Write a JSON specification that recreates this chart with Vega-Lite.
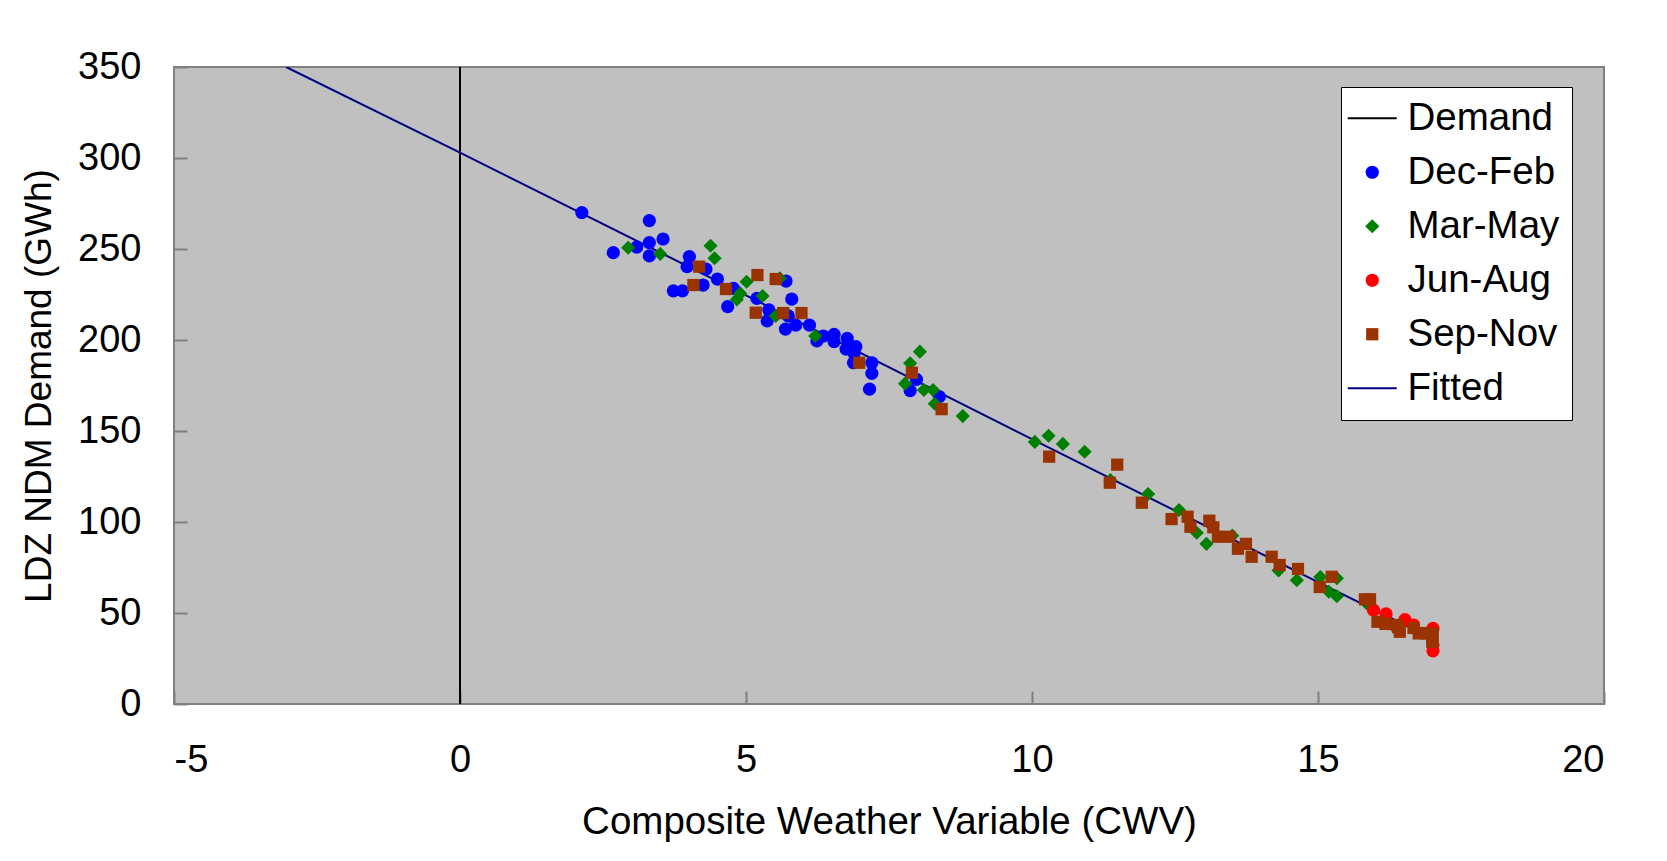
{
  "$schema": "https://vega.github.io/schema/vega-lite/v6.json",
  "width": 1430,
  "height": 637,
  "autosize": {"type": "none"},
  "padding": {"left": 174, "top": 67, "right": 63, "bottom": 157},
  "background": "white",
  "config": {
    "font": "Liberation Sans",
    "view": {"fill": "#C0C0C0", "stroke": "#808080", "strokeWidth": 2}
  },
  "datasets": {
    "lines": [
      {"series": "Demand", "x": 0, "y": 0},
      {"series": "Demand", "x": 0, "y": 350},
      {"series": "Fitted", "x": -3.04, "y": 350},
      {"series": "Fitted", "x": 0, "y": 303},
      {"series": "Fitted", "x": 5, "y": 224.5},
      {"series": "Fitted", "x": 10, "y": 145.5},
      {"series": "Fitted", "x": 15, "y": 67},
      {"series": "Fitted", "x": 17, "y": 36}
    ],
    "points": [
      {"series": "Dec-Feb", "x": 2.13, "y": 270},
      {"series": "Dec-Feb", "x": 2.68, "y": 248},
      {"series": "Dec-Feb", "x": 3.09, "y": 251},
      {"series": "Dec-Feb", "x": 3.31, "y": 265.6},
      {"series": "Dec-Feb", "x": 3.31, "y": 253.5},
      {"series": "Dec-Feb", "x": 3.31, "y": 246.2},
      {"series": "Dec-Feb", "x": 3.55, "y": 255.5},
      {"series": "Dec-Feb", "x": 4.01, "y": 245.8},
      {"series": "Dec-Feb", "x": 3.97, "y": 240.3},
      {"series": "Dec-Feb", "x": 4.3, "y": 239},
      {"series": "Dec-Feb", "x": 3.73, "y": 227},
      {"series": "Dec-Feb", "x": 3.89, "y": 227},
      {"series": "Dec-Feb", "x": 4.25, "y": 230.2},
      {"series": "Dec-Feb", "x": 4.5, "y": 233.5},
      {"series": "Dec-Feb", "x": 4.78, "y": 228.4},
      {"series": "Dec-Feb", "x": 4.68, "y": 218.3},
      {"series": "Dec-Feb", "x": 5.19, "y": 222.9},
      {"series": "Dec-Feb", "x": 5.4, "y": 216.5},
      {"series": "Dec-Feb", "x": 5.37, "y": 210.5},
      {"series": "Dec-Feb", "x": 5.7, "y": 232.4},
      {"series": "Dec-Feb", "x": 5.8, "y": 222.5},
      {"series": "Dec-Feb", "x": 5.74, "y": 213.2},
      {"series": "Dec-Feb", "x": 5.69, "y": 206},
      {"series": "Dec-Feb", "x": 5.87, "y": 208.2},
      {"series": "Dec-Feb", "x": 6.11, "y": 208.2},
      {"series": "Dec-Feb", "x": 6.24, "y": 199.5},
      {"series": "Dec-Feb", "x": 6.35, "y": 202.2},
      {"series": "Dec-Feb", "x": 6.54, "y": 203.1},
      {"series": "Dec-Feb", "x": 6.54, "y": 199.1},
      {"series": "Dec-Feb", "x": 6.77, "y": 200.9},
      {"series": "Dec-Feb", "x": 6.75, "y": 195},
      {"series": "Dec-Feb", "x": 6.92, "y": 196.3},
      {"series": "Dec-Feb", "x": 6.89, "y": 192.7},
      {"series": "Dec-Feb", "x": 6.88, "y": 187.5},
      {"series": "Dec-Feb", "x": 7.2, "y": 187.5},
      {"series": "Dec-Feb", "x": 7.2, "y": 181.7},
      {"series": "Dec-Feb", "x": 7.16, "y": 173},
      {"series": "Dec-Feb", "x": 7.98, "y": 178.4},
      {"series": "Dec-Feb", "x": 7.87, "y": 172.2},
      {"series": "Dec-Feb", "x": 8.38, "y": 168.9},
      {"series": "Mar-May", "x": 2.94, "y": 250.7},
      {"series": "Mar-May", "x": 3.5, "y": 247.3},
      {"series": "Mar-May", "x": 4.38, "y": 251.8},
      {"series": "Mar-May", "x": 4.45, "y": 244.9},
      {"series": "Mar-May", "x": 5.01, "y": 232},
      {"series": "Mar-May", "x": 4.9, "y": 225.6},
      {"series": "Mar-May", "x": 4.84, "y": 222.3},
      {"series": "Mar-May", "x": 5.29, "y": 224.2},
      {"series": "Mar-May", "x": 5.59, "y": 233.9},
      {"series": "Mar-May", "x": 5.52, "y": 213.2},
      {"series": "Mar-May", "x": 6.21, "y": 202.2},
      {"series": "Mar-May", "x": 8.04, "y": 193.6},
      {"series": "Mar-May", "x": 7.87, "y": 187.2},
      {"series": "Mar-May", "x": 7.78, "y": 176},
      {"series": "Mar-May", "x": 8.11, "y": 172.5},
      {"series": "Mar-May", "x": 8.27, "y": 172.5},
      {"series": "Mar-May", "x": 8.3, "y": 165},
      {"series": "Mar-May", "x": 8.79, "y": 158.2},
      {"series": "Mar-May", "x": 10.05, "y": 144},
      {"series": "Mar-May", "x": 10.29, "y": 147.4},
      {"series": "Mar-May", "x": 10.54, "y": 142.9},
      {"series": "Mar-May", "x": 10.92, "y": 138.6},
      {"series": "Mar-May", "x": 11.37, "y": 123},
      {"series": "Mar-May", "x": 12.03, "y": 115.4},
      {"series": "Mar-May", "x": 12.57, "y": 106.6},
      {"series": "Mar-May", "x": 12.88, "y": 94.1},
      {"series": "Mar-May", "x": 13.05, "y": 88},
      {"series": "Mar-May", "x": 13.5, "y": 92.5},
      {"series": "Mar-May", "x": 14.31, "y": 73.4},
      {"series": "Mar-May", "x": 14.63, "y": 68},
      {"series": "Mar-May", "x": 15.04, "y": 69.8},
      {"series": "Mar-May", "x": 15.33, "y": 69.1},
      {"series": "Mar-May", "x": 15.19, "y": 61.7},
      {"series": "Mar-May", "x": 15.33, "y": 59.2},
      {"series": "Mar-May", "x": 15.88, "y": 54.4},
      {"series": "Jun-Aug", "x": 15.97, "y": 51.6},
      {"series": "Jun-Aug", "x": 16.19, "y": 49.5},
      {"series": "Jun-Aug", "x": 16.52, "y": 46.3},
      {"series": "Jun-Aug", "x": 16.67, "y": 43.4},
      {"series": "Jun-Aug", "x": 17.01, "y": 41.5},
      {"series": "Jun-Aug", "x": 17.01, "y": 32.4},
      {"series": "Jun-Aug", "x": 17.01, "y": 29.2},
      {"series": "Sep-Nov", "x": 4.18, "y": 240.3},
      {"series": "Sep-Nov", "x": 4.08, "y": 230.2},
      {"series": "Sep-Nov", "x": 4.65, "y": 228},
      {"series": "Sep-Nov", "x": 5.2, "y": 235.7},
      {"series": "Sep-Nov", "x": 5.52, "y": 233.5},
      {"series": "Sep-Nov", "x": 5.17, "y": 215},
      {"series": "Sep-Nov", "x": 5.65, "y": 214.8},
      {"series": "Sep-Nov", "x": 5.97, "y": 214.8},
      {"series": "Sep-Nov", "x": 6.98, "y": 187.5},
      {"series": "Sep-Nov", "x": 7.9, "y": 182},
      {"series": "Sep-Nov", "x": 8.42, "y": 162},
      {"series": "Sep-Nov", "x": 10.3, "y": 135.9},
      {"series": "Sep-Nov", "x": 11.49, "y": 131.5},
      {"series": "Sep-Nov", "x": 11.36, "y": 121.6},
      {"series": "Sep-Nov", "x": 11.92, "y": 110.6},
      {"series": "Sep-Nov", "x": 12.44, "y": 101.6},
      {"series": "Sep-Nov", "x": 12.72, "y": 102.9},
      {"series": "Sep-Nov", "x": 12.77, "y": 97.4},
      {"series": "Sep-Nov", "x": 13.1, "y": 100.7},
      {"series": "Sep-Nov", "x": 13.17, "y": 97.1},
      {"series": "Sep-Nov", "x": 13.25, "y": 91.9},
      {"series": "Sep-Nov", "x": 13.45, "y": 91.9},
      {"series": "Sep-Nov", "x": 13.6, "y": 85.3},
      {"series": "Sep-Nov", "x": 13.74, "y": 88},
      {"series": "Sep-Nov", "x": 13.84, "y": 80.9},
      {"series": "Sep-Nov", "x": 14.19, "y": 80.9},
      {"series": "Sep-Nov", "x": 14.33, "y": 76.4},
      {"series": "Sep-Nov", "x": 14.65, "y": 74.2},
      {"series": "Sep-Nov", "x": 15.03, "y": 64.3},
      {"series": "Sep-Nov", "x": 15.24, "y": 69.9},
      {"series": "Sep-Nov", "x": 15.82, "y": 57.5},
      {"series": "Sep-Nov", "x": 15.91, "y": 57.5},
      {"series": "Sep-Nov", "x": 16.04, "y": 45.2},
      {"series": "Sep-Nov", "x": 16.18, "y": 44},
      {"series": "Sep-Nov", "x": 16.38, "y": 43.4},
      {"series": "Sep-Nov", "x": 16.43, "y": 39.7},
      {"series": "Sep-Nov", "x": 16.4, "y": 42.1},
      {"series": "Sep-Nov", "x": 16.67, "y": 41.8},
      {"series": "Sep-Nov", "x": 16.76, "y": 38.8},
      {"series": "Sep-Nov", "x": 16.85, "y": 39},
      {"series": "Sep-Nov", "x": 16.9, "y": 38.8},
      {"series": "Sep-Nov", "x": 17.0, "y": 38.8},
      {"series": "Sep-Nov", "x": 17.0, "y": 35.9},
      {"series": "Sep-Nov", "x": 17.0, "y": 37.9},
      {"series": "Sep-Nov", "x": 17.0, "y": 34.2}
    ]
  },
  "encoding": {
    "x": {
      "field": "x",
      "type": "quantitative",
      "scale": {"domain": [-5, 20], "nice": false, "zero": false},
      "axis": {
        "values": [-5, 0, 5, 10, 15, 20],
        "labelExpr": "'' + datum.value",
        "title": "Composite Weather Variable (CWV)",
        "domain": false,
        "grid": false,
        "tickColor": "#808080",
        "tickWidth": 2,
        "tickSize": -13,
        "labelPadding": 50,
        "labelFontSize": 38,
        "labelColor": "black",
        "labelFont": "Liberation Sans",
        "titleFont": "Liberation Sans",
        "titleFontSize": 38.5,
        "titleFontWeight": "normal",
        "titleColor": "black",
        "titleBaseline": "middle",
        "titleY": 117
      }
    },
    "y": {
      "field": "y",
      "type": "quantitative",
      "scale": {"domain": [0, 350], "nice": false, "zero": true},
      "axis": {
        "values": [0, 50, 100, 150, 200, 250, 300, 350],
        "title": "LDZ NDM Demand (GWh)",
        "domain": false,
        "grid": false,
        "tickColor": "#808080",
        "tickWidth": 2,
        "tickSize": -13,
        "labelPadding": 46,
        "labelFontSize": 38,
        "labelColor": "black",
        "labelFont": "Liberation Sans",
        "titleFont": "Liberation Sans",
        "titleFontSize": 37,
        "titleFontWeight": "normal",
        "titleColor": "black",
        "titleBaseline": "middle",
        "titleX": -135
      }
    },
    "color": {
      "field": "series",
      "type": "nominal",
      "scale": {
        "domain": ["Demand", "Dec-Feb", "Mar-May", "Jun-Aug", "Sep-Nov", "Fitted"],
        "range": ["#000000", "#0000FF", "#008000", "#FF0000", "#993300", "#000080"]
      },
      "legend": {
        "title": null,
        "orient": "none",
        "legendX": 1167,
        "legendY": 20,
        "fillColor": "white",
        "strokeColor": "black",
        "padding": 12,
        "rowPadding": 15,
        "labelOffset": 16,
        "labelFontSize": 38.5,
        "labelFont": "Liberation Sans",
        "labelColor": "black",
        "symbolOpacity": 1,
        "encode": {
          "symbols": {
            "update": {
              "fill": {"scale": "color", "field": "value"},
              "stroke": {"scale": "color", "field": "value"},
              "strokeWidth": {"signal": "datum.value === 'Demand' || datum.value === 'Fitted' ? 2 : 0"},
              "opacity": {"value": 1}
            }
          }
        }
      }
    }
  },
  "layer": [
    {
      "data": {"name": "lines"},
      "mark": {"type": "line", "strokeWidth": 2, "clip": true},
      "encoding": {}
    },
    {
      "data": {"name": "points"},
      "mark": {"type": "point", "filled": true, "opacity": 1, "strokeWidth": 0},
      "encoding": {
        "shape": {
          "field": "series",
          "type": "nominal",
          "scale": {
            "domain": ["Demand", "Dec-Feb", "Mar-May", "Jun-Aug", "Sep-Nov", "Fitted"],
            "range": ["stroke", "circle", "diamond", "circle", "square", "stroke"]
          }
        },
        "size": {
          "field": "series",
          "type": "nominal",
          "scale": {
            "type": "ordinal",
            "domain": ["Demand", "Dec-Feb", "Mar-May", "Jun-Aug", "Sep-Nov", "Fitted"],
            "range": [2401, 175, 200, 175, 150, 2401]
          }
        }
      }
    }
  ]
}
